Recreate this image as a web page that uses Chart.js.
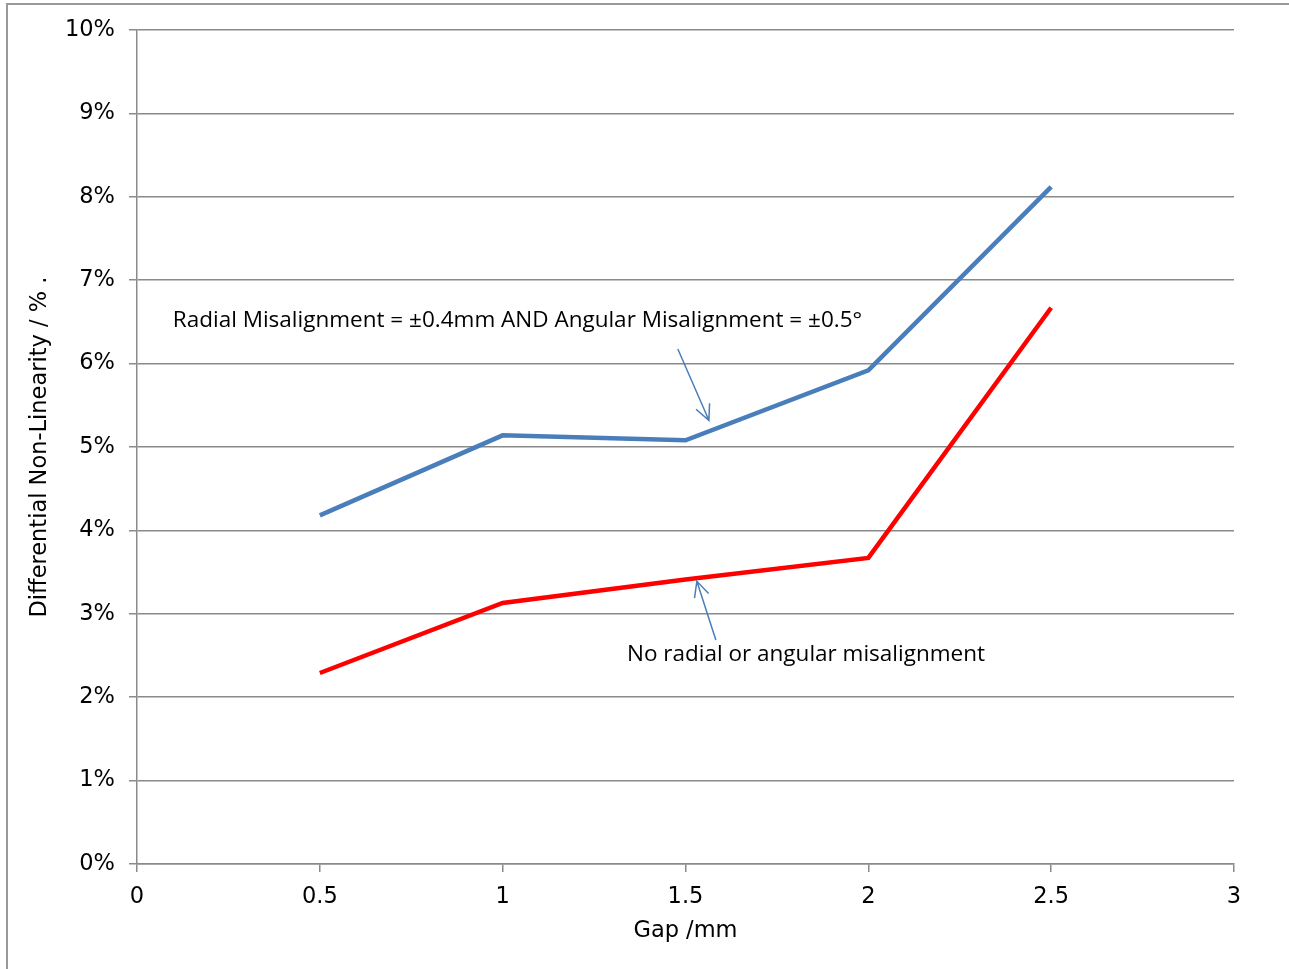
<!DOCTYPE html>
<html>
<head>
<meta charset="utf-8">
<title>Differential Non-Linearity vs Gap</title>
<script src="https://cdn.jsdelivr.net/npm/chart.js@4.4.1/dist/chart.umd.min.js"></script>
<style>
  html, body { margin: 0; padding: 0; background: #fff; }
  #wrap { width: 1289px; height: 969px; position: relative; }
</style>
</head>
<body>
<div id="wrap"><canvas id="dnl_chart"></canvas></div>
<script>
// gap in mm
const gapMm = [0.5, 1, 1.5, 2, 2.5];
// differential non-linearity in %
const dnlMisaligned = [4.18, 5.14, 5.08, 5.92, 8.12];
const dnlAligned = [2.29, 3.13, 3.41, 3.67, 6.67];
const xTicks = [0, 0.5, 1, 1.5, 2, 2.5, 3];
const yTicks = [0, 1, 2, 3, 4, 5, 6, 7, 8, 9, 10];

// callouts, placed in data units
const notes = [
    { text: 'Radial Misalignment = \u00b10.4mm AND Angular Misalignment = \u00b10.5\u00b0', x: 0.098, y: 6.52 },
    { text: 'No radial or angular misalignment', x: 1.34, y: 2.51 }
];
const arrows = [
    { from: [1.479, 6.175], to: [1.564, 5.32] },
    { from: [1.583, 2.686], to: [1.531, 3.39] }
];

const GRID = '#8a8a8a';
const AXIS_FONT = { family: 'DejaVu Sans', size: 22.5 };

function toPoints(xs, ys){
    return xs.map((x, i) => ({ x: x, y: ys[i] }));
}

const calloutPlugin = {
    id: 'callouts',
    beforeDraw(chart){
        const ctx = chart.ctx;
        ctx.save();
        ctx.fillStyle = '#fff';
        ctx.fillRect(0, 0, chart.width, chart.height);
        // outer frame
        ctx.strokeStyle = '#999';
        ctx.lineWidth = 2;
        ctx.strokeRect(7, 4, chart.width + 20, chart.height + 20);
        ctx.restore();
    },
    afterDatasetsDraw(chart){
        const ctx = chart.ctx;
        const xs = chart.scales.x, ys = chart.scales.y;
        ctx.save();
        ctx.fillStyle = '#000';
        ctx.font = '22.5px "Open Sans"';
        ctx.textBaseline = 'middle';
        ctx.textAlign = 'left';
        notes.forEach(n => {
            ctx.fillText(n.text, xs.getPixelForValue(n.x), ys.getPixelForValue(n.y));
        });
        ctx.strokeStyle = '#4a7ebb';
        ctx.lineWidth = 1.5;
        arrows.forEach(a => {
            const x0 = xs.getPixelForValue(a.from[0]), y0 = ys.getPixelForValue(a.from[1]);
            const x1 = xs.getPixelForValue(a.to[0]), y1 = ys.getPixelForValue(a.to[1]);
            const ang = Math.atan2(y1 - y0, x1 - x0);
            const len = 17, spread = 0.45;
            ctx.beginPath();
            ctx.moveTo(x0, y0);
            ctx.lineTo(x1, y1);
            ctx.moveTo(x1 - len * Math.cos(ang - spread), y1 - len * Math.sin(ang - spread));
            ctx.lineTo(x1, y1);
            ctx.lineTo(x1 - len * Math.cos(ang + spread), y1 - len * Math.sin(ang + spread));
            ctx.stroke();
        });
        ctx.restore();
    }
};

new Chart(document.getElementById('dnl_chart'), {
    type: 'line',
    data: {
        datasets: [{
            label: 'Radial and angular misalignment',
            data: toPoints(gapMm, dnlMisaligned),
            borderColor: '#4a7ebb',
            borderWidth: 4.5,
            pointRadius: 0,
            tension: 0
        }, {
            label: 'No misalignment',
            data: toPoints(gapMm, dnlAligned),
            borderColor: '#ff0000',
            borderWidth: 4.5,
            pointRadius: 0,
            tension: 0
        }]
    },
    options: {
        responsive: true,
        maintainAspectRatio: false,
        animation: false,
        layout: { padding: { left: 0, right: 55, top: 30, bottom: 0 } },
        plugins: {
            legend: { display: false },
            tooltip: { enabled: false }
        },
        scales: {
            x: {
                type: 'linear',
                min: 0,
                max: 3,
                afterBuildTicks: axis => { axis.ticks = xTicks.map(v => ({ value: v })); },
                afterFit: axis => { axis.height = 105; },
                ticks: {
                    color: '#000',
                    font: AXIS_FONT,
                    padding: 12,
                    maxRotation: 0,
                    callback: v => String(v)
                },
                grid: { drawOnChartArea: false, drawTicks: true, tickLength: 8, color: GRID, lineWidth: 1.5 },
                border: { color: GRID, width: 1.5 },
                title: {
                    display: true,
                    text: 'Gap /mm',
                    color: '#000',
                    font: AXIS_FONT,
                    padding: { top: 0, bottom: 24 }
                }
            },
            y: {
                type: 'linear',
                min: 0,
                max: 10,
                afterBuildTicks: axis => { axis.ticks = yTicks.map(v => ({ value: v })); },
                afterFit: axis => { axis.width = 137; },
                ticks: {
                    color: '#000',
                    font: AXIS_FONT,
                    padding: 14,
                    callback: v => v + '%'
                },
                grid: { color: GRID, lineWidth: 1.5, tickLength: 8 },
                border: { color: GRID, width: 1.5 },
                title: {
                    display: true,
                    text: 'Differential Non-Linearity / % .',
                    color: '#000',
                    font: AXIS_FONT,
                    padding: { top: 27, bottom: 0 }
                }
            }
        }
    },
    plugins: [calloutPlugin]
});
</script>
</body>
</html>
